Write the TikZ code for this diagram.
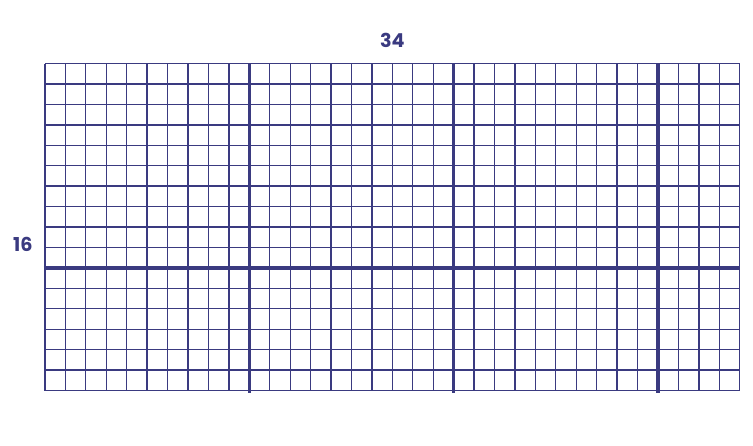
\documentclass[tikz,border=0pt]{standalone}
\usepackage{fontspec}
\setmainfont{Poppins}
\usetikzlibrary{positioning}
\definecolor{gridblue}{HTML}{3A3A80}

\begin{document}
\begin{tikzpicture}[
  x=0.6cm, y=0.6cm,
  thinline/.style={draw=gridblue, line width=1.1pt},
  thickline/.style={draw=gridblue, line width=3pt},
  dimlabel/.style={font=\fontsize{16}{18}\selectfont\bfseries, text=gridblue},
]
  \useasboundingbox (-2.2,-2.69) rectangle (34.65,19.11);

  % Grid
  \draw[thinline, step=0.6cm] (0,0) grid (34,16);

  % Thick lines
  \draw[thickline] (10,-0.1) -- (10,16);
  \draw[thickline] (20,-0.1) -- (20,16);
  \draw[thickline] (30,-0.1) -- (30,16);
  \draw[thickline] (-0.05,6) -- (34,6);

  % Labels
  \node[dimlabel] (width) at (17,17.15) {34};
  \node[dimlabel] (height) at (-1.08,7.15) {16};

\end{tikzpicture}
\end{document}
